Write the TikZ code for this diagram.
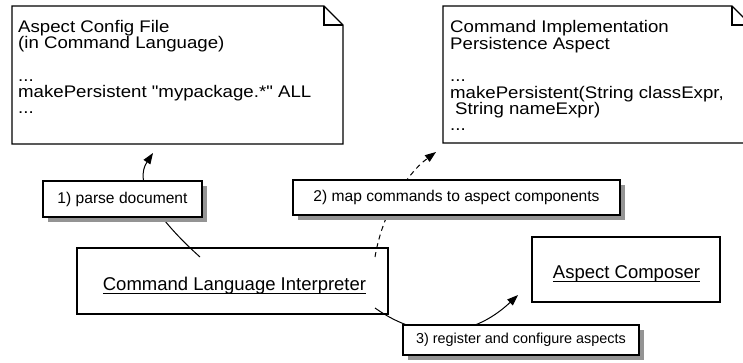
\documentclass[tikz,border=0pt]{standalone}
\usepackage{fontspec}
\setmainfont{Liberation Sans}
\newfontfamily\notefont[FakeStretch=1.11]{Liberation Sans}
\usetikzlibrary{arrows.meta,shadows}

% underline at a fixed depth below the baseline
\newcommand{\undertext}[1]{\setbox0\hbox{#1}\rlap{\rule[-3.6pt]{\wd0}{0.9pt}}\box0}

\begin{document}
\begin{tikzpicture}[x=1pt,y=-1pt,
  notebox/.style={inner sep=0pt, outer sep=0pt},
  noteline/.style={line width=1.1pt, line join=miter},
  notetext/.style={inner sep=0pt, anchor=north west, align=left,
    font=\notefont\fontsize{16.8}{16.3}\selectfont},
  objbox/.style={draw, line width=1.1pt, fill=white, inner sep=0pt, outer sep=0pt},
  objtext/.style={inner sep=0pt, anchor=base, font=\fontsize{18.5}{22}\selectfont},
  steplabel/.style={draw, line width=1.1pt, fill=white, inner sep=0pt, outer sep=0pt,
    font=\fontsize{15.6}{18}\selectfont,
    drop shadow={shadow xshift=4.5pt, shadow yshift=-4.5pt, fill=black!42, opacity=1}},
  flow/.style={line width=1pt, -{Triangle[length=11pt,width=8pt]}}
]
\useasboundingbox (0,0) rectangle (743,362);

% configuration file note
\node[notebox, minimum width=331pt, minimum height=138pt] (note1) at (177.5,75) {};
\draw[noteline] (note1.north west) -- ([xshift=-19pt]note1.north east)
  -- ([yshift=-19pt]note1.north east) -- (note1.south east)
  -- (note1.south west) -- cycle;
\draw[noteline] ([xshift=-19pt]note1.north east)
  -- ([xshift=-19pt,yshift=-19pt]note1.north east) -- ([yshift=-19pt]note1.north east);
\node[notetext] (note1text) at ([shift={(6pt,-14pt)}]note1.north west)
  {Aspect Config File\\(in Command Language)\\{}\\...\\makePersistent "mypackage.*" ALL\\...};

% aspect implementation note
\node[notebox, minimum width=308pt, minimum height=137pt] (note2) at (597,74.5) {};
\draw[noteline] (note2.north west) -- ([xshift=-19pt]note2.north east)
  -- ([yshift=-19pt]note2.north east) -- (note2.south east)
  -- (note2.south west) -- cycle;
\draw[noteline] ([xshift=-19pt]note2.north east)
  -- ([xshift=-19pt,yshift=-19pt]note2.north east) -- ([yshift=-19pt]note2.north east);
\node[notetext] (note2text) at ([shift={(7pt,-14.5pt)}]note2.north west)
  {Command Implementation\\Persistence Aspect\\{}\\...\\makePersistent(String classExpr,\\\hspace*{5pt}String nameExpr)\\...};

% objects
\node[objbox, minimum width=311pt, minimum height=66pt] (cli) at (232.5,281) {};
\node[objtext] (clitext) at (234.5,290) {\undertext{Command Language Interpreter}};
\node[objbox, minimum width=188pt, minimum height=65pt] (comp) at (626,269.5) {};
\node[objtext] (comptext) at (626.5,278) {\undertext{Aspect Composer}};

% connectors
\draw[flow] ([shift={(-32.5pt,-9pt)}]cli.north)
  .. controls +(-50,-45) and +(-18,27) .. ([shift={(-24.5pt,-9pt)}]note1.south);
\draw[flow, dash pattern=on 5pt off 4pt] ([shift={(-13pt,-9pt)}]cli.north east)
  .. controls +(7,-42) and +(-31,23) .. ([shift={(-7pt,-9pt)}]note2.south west);
\draw[flow] ([shift={(-13pt,6pt)}]cli.south east)
  .. controls +(45,32) and +(-48,45) .. ([shift={(-14pt,7pt)}]comp.south west);

% step labels
\node[steplabel, minimum width=159pt, minimum height=36pt] (parse) at (122.5,199) {1) parse document};
\node[steplabel, minimum width=327pt, minimum height=35pt] (map) at (456.5,197.5) {2) map commands to aspect components};
\node[steplabel, minimum width=236pt, minimum height=30pt, font=\fontsize{14.4}{17}\selectfont] (register) at (521,340) {3) register and configure aspects};
\end{tikzpicture}
\end{document}
